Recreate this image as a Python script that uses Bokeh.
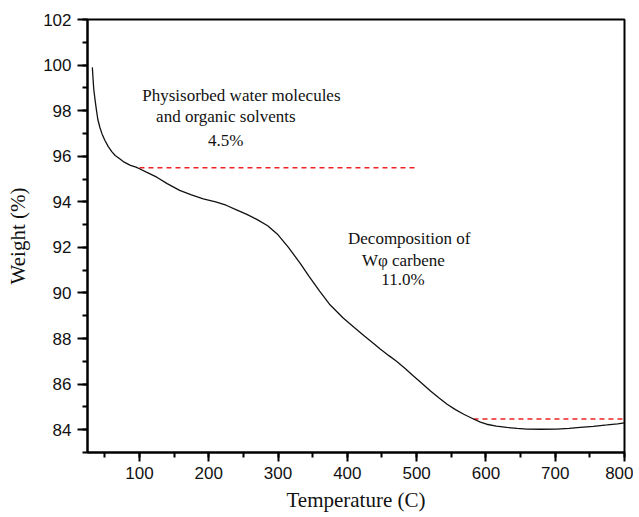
from bokeh.plotting import figure
from bokeh.models import Range1d, SingleIntervalTicker, ColumnDataSource
from bokeh.core.properties import value
from bokeh.embed import file_html
from bokeh.resources import INLINE

# TGA curve
temperature = [32, 33, 34, 36, 38, 40, 43, 46, 50, 55, 60, 65, 70, 78, 87, 95, 100, 110, 125,
               140, 158, 175, 192, 210, 225, 240, 255, 270, 285, 300, 315, 332, 345, 360,
               375, 394, 410, 425, 437, 447, 460, 471, 483, 495, 507, 520, 532, 544, 556,
               568, 582, 592, 601, 615, 630, 645, 659, 680, 702, 720, 736, 755, 775, 790, 800]
weight = [99.9, 99.4, 98.95, 98.45, 98.0, 97.6, 97.25, 96.98, 96.7, 96.42, 96.2, 96.03, 95.92,
          95.74, 95.6, 95.52, 95.45, 95.3, 95.08, 94.8, 94.5, 94.3, 94.13, 94.0, 93.85, 93.65,
          93.45, 93.22, 92.95, 92.55, 92.0, 91.3, 90.72, 90.08, 89.48, 88.9, 88.48, 88.1, 87.8,
          87.55, 87.25, 87.0, 86.7, 86.37, 86.05, 85.7, 85.4, 85.12, 84.88, 84.68, 84.47,
          84.33, 84.24, 84.16, 84.1, 84.06, 84.03, 84.02, 84.03, 84.06, 84.1, 84.15, 84.21,
          84.26, 84.3]

# reference (dashed) levels
level1_x = [100, 500]
level1_y = [95.5, 95.5]
level2_x = [582, 800]
level2_y = [84.47, 84.47]

# annotations
ann1_text = ["Physisorbed water molecules", "and organic solvents", "4.5%"]
ann1_x = [104, 124, 199]
ann1_y = [98.66, 97.74, 96.69]
ann2_text = ["Decomposition of", "W\u03c6 carbene", "11.0%"]
ann2_x = [401, 421, 449]
ann2_y = [92.39, 91.42, 90.59]

p = figure(width=633, height=515, output_backend="svg", toolbar_location=None,
           x_range=Range1d(25, 800), y_range=Range1d(83, 102),
           min_border_left=87, min_border_right=9, min_border_top=19, min_border_bottom=63)
p.grid.visible = False
p.background_fill_color = "white"
p.border_fill_color = "white"
p.outline_line_color = "black"
p.outline_line_width = 2
p.outline_line_alpha = 1

p.xaxis.ticker = SingleIntervalTicker(interval=100, num_minor_ticks=2)
p.yaxis.ticker = SingleIntervalTicker(interval=2, num_minor_ticks=2)

for ax in (p.xaxis[0], p.yaxis[0]):
    ax.axis_line_width = 2
    ax.axis_line_color = "black"
    ax.major_tick_line_width = 2
    ax.minor_tick_line_width = 2
    ax.major_tick_line_color = "black"
    ax.minor_tick_line_color = "black"
    ax.major_tick_in = 0
    ax.minor_tick_in = 0
    ax.major_label_text_font = "Liberation Sans"
    ax.major_label_text_font_size = "17px"
    ax.major_label_text_color = "#111111"
    ax.axis_label_text_font = "Liberation Serif"
    ax.axis_label_text_font_style = "normal"
    ax.axis_label_text_font_size = "21px"
    ax.axis_label_text_color = "#111111"

p.xaxis.axis_label = "Temperature (C)"
p.yaxis.axis_label = "Weight (%)"
p.xaxis.major_tick_out = 9
p.xaxis.minor_tick_out = 5
p.yaxis.major_tick_out = 10
p.yaxis.minor_tick_out = 5
p.xaxis.major_label_standoff = 5
p.yaxis.major_label_standoff = 6
p.xaxis.axis_label_standoff = 6
p.yaxis.axis_label_standoff = 10

p.line(level1_x, level1_y, line_color="#ee2222", line_width=1.5, line_dash="5 4")
p.line(level2_x, level2_y, line_color="#ee2222", line_width=1.5, line_dash="5 4")
p.line(temperature, weight, line_color="#111111", line_width=1.3)

src1 = ColumnDataSource(dict(x=ann1_x, y=ann1_y, t=ann1_text))
src2 = ColumnDataSource(dict(x=ann2_x, y=ann2_y, t=ann2_text))
for s in (src1, src2):
    p.text(x="x", y="y", text="t", source=s, text_font=value("Liberation Serif"),
           text_font_size="17px", text_color="#111111", text_align="left",
           text_baseline="middle")

open("out.html", "w").write(file_html(p, INLINE))
